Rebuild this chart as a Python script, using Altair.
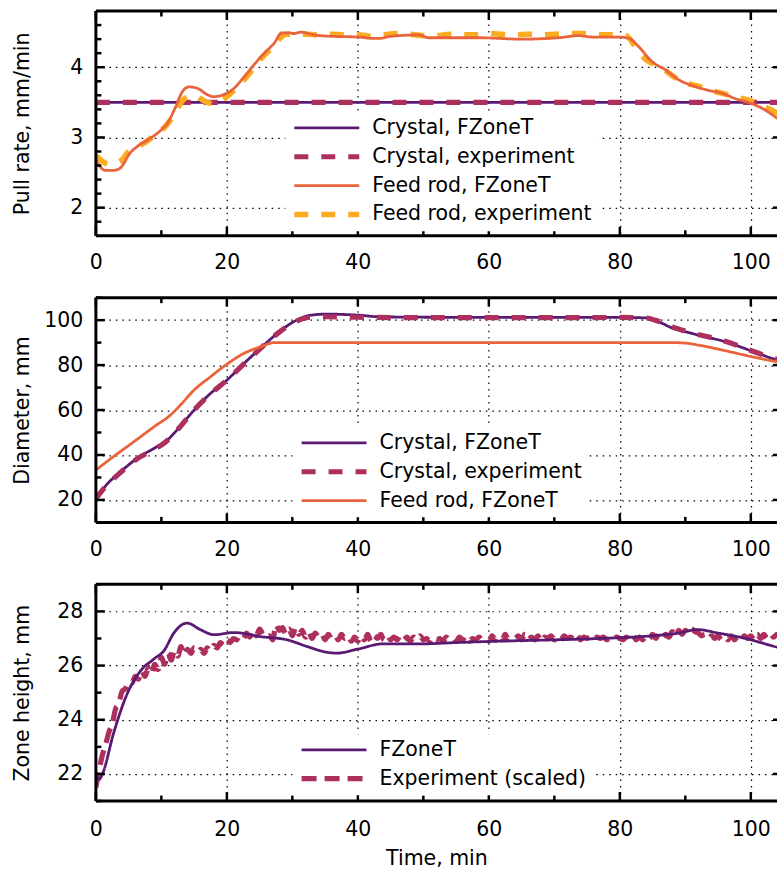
import altair as alt
import pandas as pd

FONT = "DejaVu Sans"
C_PURPLE = "#5b1a72"
C_CRIMSON = "#ac2f5e"
C_ORANGE = "#e9633b"
C_YELLOW = "#fbab1f"

# ---------------- Panel 1: pull rate ----------------
pr_t_cr = [0, 105]
pr_v_cr_sim = [3.5, 3.5]
pr_v_cr_exp = [3.5, 3.5]

pr_t_feed_sim = [0, 0.5, 1, 1.5, 2.5, 3.5, 4.2, 5, 6.3, 8, 9.9, 10.9, 12.2, 13.2, 14.2, 15.5,
                 17, 18, 19.5, 21.1, 22.6, 24.1, 25.6, 27.2, 28.4, 29.5, 30.2, 31.3, 33.3, 36.1,
                 40.2, 42.2, 43.2, 45, 49.3, 50.8, 55, 58.5, 65, 70.7, 73.7, 75.8, 79.8, 81.4,
                 82.9, 84.9, 87, 89, 91, 93.6, 95.6, 97.7, 100.2, 102.2, 104.1, 105]
pr_v_feed_sim = [2.68, 2.6, 2.55, 2.53, 2.53, 2.55, 2.62, 2.75, 2.87, 2.97, 3.1, 3.2, 3.44, 3.65,
                 3.72, 3.70, 3.61, 3.58, 3.61, 3.70, 3.86, 4.03, 4.19, 4.34, 4.49, 4.49, 4.48, 4.50,
                 4.46, 4.44, 4.43, 4.41, 4.41, 4.44, 4.46, 4.42, 4.42, 4.42, 4.40, 4.42, 4.45, 4.43,
                 4.43, 4.41, 4.29, 4.08, 3.96, 3.82, 3.74, 3.67, 3.63, 3.55, 3.48, 3.39, 3.27, 3.22]

pr_t_feed_exp = [0, 1, 2, 3, 4, 5, 6, 7, 8, 9, 10, 11, 12, 13, 14, 15, 16, 17, 18, 19, 20, 21, 22,
                 23, 24, 25, 26, 27, 28, 29, 30, 32, 34, 36, 38, 40, 42, 44, 46, 48, 50, 52, 54, 56,
                 58, 60, 62, 64, 66, 68, 70, 72, 74, 76, 78, 80, 81, 82, 83, 84, 85, 86, 87, 88, 89,
                 90, 92, 94, 96, 98, 100, 102, 104, 105]
pr_v_feed_exp = [2.74, 2.66, 2.62, 2.63, 2.68, 2.80, 2.86, 2.90, 2.96, 3.03, 3.10, 3.20, 3.33,
                 3.50, 3.58, 3.60, 3.55, 3.50, 3.48, 3.52, 3.58, 3.66, 3.76, 3.86, 3.98, 4.10,
                 4.20, 4.28, 4.40, 4.47, 4.47, 4.47, 4.46, 4.47, 4.46, 4.46, 4.44, 4.46, 4.48,
                 4.47, 4.45, 4.45, 4.47, 4.46, 4.46, 4.48, 4.47, 4.46, 4.47, 4.46, 4.47, 4.48,
                 4.48, 4.47, 4.46, 4.46, 4.45, 4.34, 4.20, 4.11, 4.05, 4.00, 3.95, 3.88, 3.82,
                 3.78, 3.73, 3.67, 3.62, 3.57, 3.52, 3.44, 3.35, 3.30]

# ---------------- Panel 2: diameter ----------------
d_t_cr_sim = [0, 1.2, 3.8, 6.3, 8.9, 10.6, 12.4, 15, 17.5, 20, 22.6, 25.1, 27.7, 30.2, 32.8, 35.3,
              38, 40.2, 43.2, 50, 60, 70, 80, 83.9, 85.9, 88, 91, 94, 96.1, 100.2, 104, 105]
d_v_cr_sim = [20, 25.2, 32.6, 38.5, 43, 45.9, 51.1, 60, 67.4, 73.3, 80.7, 87.4, 94.1, 99.3, 102.2,
              102.7, 102.5, 102.2, 101.5, 101.3, 101.2, 101.2, 101.2, 101, 99.3, 96.5, 94.1, 92,
              90.4, 86.2, 82.4, 81.8]
d_t_cr_exp = [0, 1.2, 3.8, 6.3, 8.9, 10.6, 12.4, 15, 17.5, 20, 22.6, 25.1, 27.7, 30.2, 32.8, 35.3,
              40, 50, 60, 70, 80, 83.9, 85.9, 88, 91, 94, 96.1, 100.2, 104, 105]
d_v_cr_exp = [20.5, 25, 32.3, 38.3, 42.5, 45.7, 51, 60, 67.2, 73.3, 80.5, 87.3, 94, 99, 101.3,
              101.5, 101.3, 101.1, 101.1, 101.1, 101.2, 101, 99.5, 97, 94.3, 92.2, 90.6, 86.3,
              82.6, 82]
d_t_feed_sim = [0, 2.7, 5.8, 8.9, 11.4, 12.9, 15, 17.5, 20, 22.6, 25.1, 27.2, 30, 40, 60, 80, 88,
                90, 92, 96.1, 100.2, 104, 105]
d_v_feed_sim = [33.3, 39.3, 45.9, 52.6, 57.8, 62.2, 68.9, 74.8, 80.4, 85.2, 88.1, 90, 90, 90, 90,
                90, 90, 89.8, 88.9, 86.4, 83.7, 81.5, 81]

# ---------------- Panel 3: zone height ----------------
z_t_sim = [0, 0.5, 1, 2.7, 4.8, 6.8, 8.9, 10.4, 11.9, 13.9, 16, 18, 21.1, 25.1, 29.2, 32.3, 35.3,
           36.8, 40.2, 43.7, 49.3, 55, 61.5, 70, 76.8, 85, 89, 91.8, 95, 99.2, 104, 105]
z_v_sim = [21.95, 21.8, 22.0, 23.5, 24.97, 25.8, 26.25, 26.55, 27.2, 27.57, 27.32, 27.14, 27.22,
           27.07, 26.95, 26.7, 26.49, 26.46, 26.62, 26.8, 26.8, 26.85, 26.9, 26.95, 27.0, 27.1,
           27.2, 27.33, 27.2, 27.0, 26.68, 26.62]

z_t_exp = [i * 0.5 for i in range(211)]
z_v_exp = [
    21.50, 22.15, 22.70, 23.10, 23.55, 23.85, 24.40, 24.60, 25.05, 25.15,
    25.40, 25.35, 25.60, 25.50, 25.80, 25.60, 25.90, 25.70, 26.05, 25.85,
    26.30, 26.05, 26.45, 26.20, 26.55, 26.35, 26.70, 26.40, 26.60, 26.45,
    26.65, 26.50, 26.60, 26.45, 26.65, 26.55, 26.75, 26.65, 26.85, 26.75,
    26.95, 26.85, 27.00, 26.95, 27.10, 27.00, 27.20, 27.05, 27.30, 27.10,
    27.35, 27.15, 27.05, 27.10, 26.95, 27.50, 27.30, 27.40, 27.15, 27.35,
    27.10, 27.40, 27.15, 27.30, 27.05, 27.25, 27.00, 27.20, 27.05, 27.15,
    26.95, 27.15, 27.00, 27.10, 26.95, 27.15, 27.00, 27.10, 26.90, 27.05,
    26.90, 27.10, 26.95, 27.15, 26.90, 27.10, 27.00, 27.15, 26.95, 27.10,
    26.95, 27.05, 26.95, 27.10, 26.95, 27.05, 26.90, 27.05, 26.95, 27.10,
    26.95, 27.00, 26.90, 27.05, 26.95, 27.00, 26.90, 27.05, 26.95, 27.00,
    26.90, 27.05, 26.95, 27.10, 26.90, 27.00, 26.95, 27.05, 26.95, 27.00,
    26.90, 27.10, 26.95, 27.10, 26.95, 27.15, 26.95, 27.05, 27.00, 27.10,
    26.95, 27.15, 26.95, 27.05, 26.95, 27.10, 26.90, 27.05, 27.00, 27.10,
    26.95, 27.05, 26.95, 27.10, 27.00, 27.05, 26.95, 27.10, 26.95, 27.05,
    27.00, 27.05, 26.95, 27.05, 27.00, 27.05, 26.95, 27.00, 26.95, 27.05,
    27.00, 26.95, 27.05, 26.95, 27.10, 26.95, 27.05, 26.95, 27.10, 27.00,
    27.15, 27.00, 27.20, 27.05, 27.15, 27.05, 27.25, 27.10, 27.30, 27.15,
    27.30, 27.20, 27.35, 27.25, 27.20, 27.10, 27.15, 27.00, 27.10, 27.00,
    27.10, 26.95, 27.05, 26.95, 27.10, 26.95, 27.05, 26.95, 27.10, 27.00,
    27.10, 26.95, 27.15, 27.00, 27.15, 27.00, 27.15, 27.05, 27.15, 27.05,
    27.10,
]

X_DOMAIN = [0, 104]
X_MAJOR = [0, 20, 40, 60, 80, 100]
X_MINOR = [10, 30, 50, 70, 90]
WIDTH = 682
DASH = [14, 13]
DASH3 = [15, 8]
SOLID = [1, 0]
FS = 20.5
SW_SOLID = 2.8
SW_DASH = 5.2


def df(t, v, name):
    return pd.DataFrame({"t": t, "v": v, "series": name})


def panel(series, ydomain, ymajor, yminor, ytitle, height, lx, ly,
          xtitle=None, xlabpad=17):
    names = [s[0] for s in series]
    xscale = alt.Scale(domain=X_DOMAIN, nice=False, zero=False)
    yscale = alt.Scale(domain=ydomain, nice=False, zero=False)
    legend = alt.Legend(
        title=None, orient="none", legendX=lx, legendY=ly, direction="vertical",
        fillColor="white", padding=6, labelFont=FONT, labelFontSize=FS,
        labelColor="black", labelLimit=0, symbolType="stroke", symbolSize=4225,
        clipHeight=19, rowPadding=7.9, labelOffset=10, symbolOpacity=1,
    )
    color = alt.Color("series:N", scale=alt.Scale(domain=names, range=[s[3] for s in series]),
                      legend=legend)
    dash = alt.StrokeDash("series:N", scale=alt.Scale(domain=names, range=[s[4] for s in series]),
                          legend=legend)
    sw = alt.StrokeWidth("series:N",
                         scale=alt.Scale(type="ordinal", domain=names, range=[s[5] for s in series]),
                         legend=legend)
    xaxis_kw = dict(values=X_MAJOR, format="d", labelPadding=xlabpad, labelFlush=False)
    if xtitle:
        xaxis = alt.Axis(title=xtitle, titleY=64, titleBaseline="alphabetic", **xaxis_kw)
    else:
        xaxis = alt.Axis(title=None, **xaxis_kw)
    yaxis = alt.Axis(values=ymajor, title=ytitle, labelPadding=13, titleX=-67,
                     titleBaseline="alphabetic", titleAlign="center", titleAngle=270)
    X = alt.X("t:Q", scale=xscale, axis=xaxis)
    Y = alt.Y("v:Q", scale=yscale, axis=yaxis)
    layers = []
    order = sorted(range(len(series)), key=lambda i: series[i][6])
    for i in order:
        name, t, v, _, _, _, _ = series[i]
        layers.append(
            alt.Chart(df(t, v, name)).mark_line(interpolate="monotone", clip=True).encode(
                x=X, y=Y, color=color, strokeDash=dash, strokeWidth=sw,
            )
        )
    # frame: top, bottom and left borders (the right border lies just outside the picture)
    layers.append(alt.Chart(pd.DataFrame({"v": ydomain})).mark_rule(
        color="black", strokeWidth=3).encode(y=Y))
    layers.append(alt.Chart(pd.DataFrame({"t": [X_DOMAIN[0]]})).mark_rule(
        color="black", strokeWidth=3).encode(x=X))
    # inward ticks (gnuplot style)
    tick_sets = []
    for vals, ln in [(ymajor, 9), (yminor, 5.5)]:
        tick_sets.append((pd.DataFrame({"t": [X_DOMAIN[0]] * len(vals), "v": vals}),
                          "horizontal", ln, ln / 2, 0))
    tick_sets.append((pd.DataFrame({"t": [X_DOMAIN[1]] * len(ymajor), "v": ymajor}),
                      "horizontal", 4, -2, 0))
    for vals, ln in [(X_MAJOR, 9), (X_MINOR, 5.5)]:
        tick_sets.append((pd.DataFrame({"t": vals, "v": [ydomain[0]] * len(vals)}),
                          "vertical", ln, 0, -ln / 2))
        tick_sets.append((pd.DataFrame({"t": vals, "v": [ydomain[1]] * len(vals)}),
                          "vertical", ln, 0, ln / 2))
    for d, orient, size, xo, yo in tick_sets:
        layers.append(
            alt.Chart(d).mark_tick(orient=orient, size=size, thickness=2.5, color="black",
                                   opacity=1, xOffset=xo, yOffset=yo).encode(x=X, y=Y)
        )
    return alt.layer(*layers).properties(width=WIDTH, height=height)


p1 = panel(
    [
        ("Crystal, FZoneT", pr_t_cr, pr_v_cr_sim, C_PURPLE, SOLID, SW_SOLID, 0),
        ("Crystal, experiment", pr_t_cr, pr_v_cr_exp, C_CRIMSON, DASH, SW_DASH, 1),
        ("Feed rod, FZoneT", pr_t_feed_sim, pr_v_feed_sim, C_ORANGE, SOLID, SW_SOLID, 3),
        ("Feed rod, experiment", pr_t_feed_exp, pr_v_feed_exp, C_YELLOW, DASH, 5.6, 2),
    ],
    [1.6, 4.8], [2, 3, 4], [1.8, 2.2, 2.4, 2.6, 2.8, 3.2, 3.4, 3.6, 3.8, 4.2, 4.4, 4.6],
    "Pull rate, mm/min", 225, 189.7, 101.5,
)
p2 = panel(
    [
        ("Crystal, FZoneT", d_t_cr_sim, d_v_cr_sim, C_PURPLE, SOLID, SW_SOLID, 0),
        ("Crystal, experiment", d_t_cr_exp, d_v_cr_exp, C_CRIMSON, DASH, SW_DASH, 1),
        ("Feed rod, FZoneT", d_t_feed_sim, d_v_feed_sim, C_ORANGE, SOLID, SW_SOLID, 2),
    ],
    [10, 110], [20, 40, 60, 80, 100], [10, 30, 50, 70, 90, 110],
    "Diameter, mm", 225, 197, 129.9,
)
p3 = panel(
    [
        ("FZoneT", z_t_sim, z_v_sim, C_PURPLE, SOLID, SW_SOLID, 1),
        ("Experiment (scaled)", z_t_exp, z_v_exp, C_CRIMSON, DASH3, SW_DASH, 0),
    ],
    [21, 29], [22, 24, 26, 28], [21, 23, 25, 27, 29],
    "Zone height, mm", 217, 197, 150.2, xtitle="Time, min", xlabpad=19,
)

chart = (
    alt.vconcat(p1, p2, p3, spacing=62, bounds="flush")
    .resolve_scale(color="independent", strokeDash="independent", strokeWidth="independent",
                   x="independent", y="independent")
    .resolve_legend(color="independent", strokeDash="independent", strokeWidth="independent")
    .properties(padding={"left": 13, "top": 8.5, "right": 0, "bottom": 0}, background="white")
    .configure_view(stroke=None)
    .configure_axis(
        labelFont=FONT, labelFontSize=FS, labelColor="black",
        titleFont=FONT, titleFontSize=FS, titleFontWeight="normal", titleColor="black",
        domain=False, ticks=False, tickSize=0, grid=True, gridColor="black",
        gridDash=[1.5, 5], gridWidth=1.2, gridOpacity=1,
    )
)

chart.save("out.html", embed_options={"renderer": "svg", "actions": False})
